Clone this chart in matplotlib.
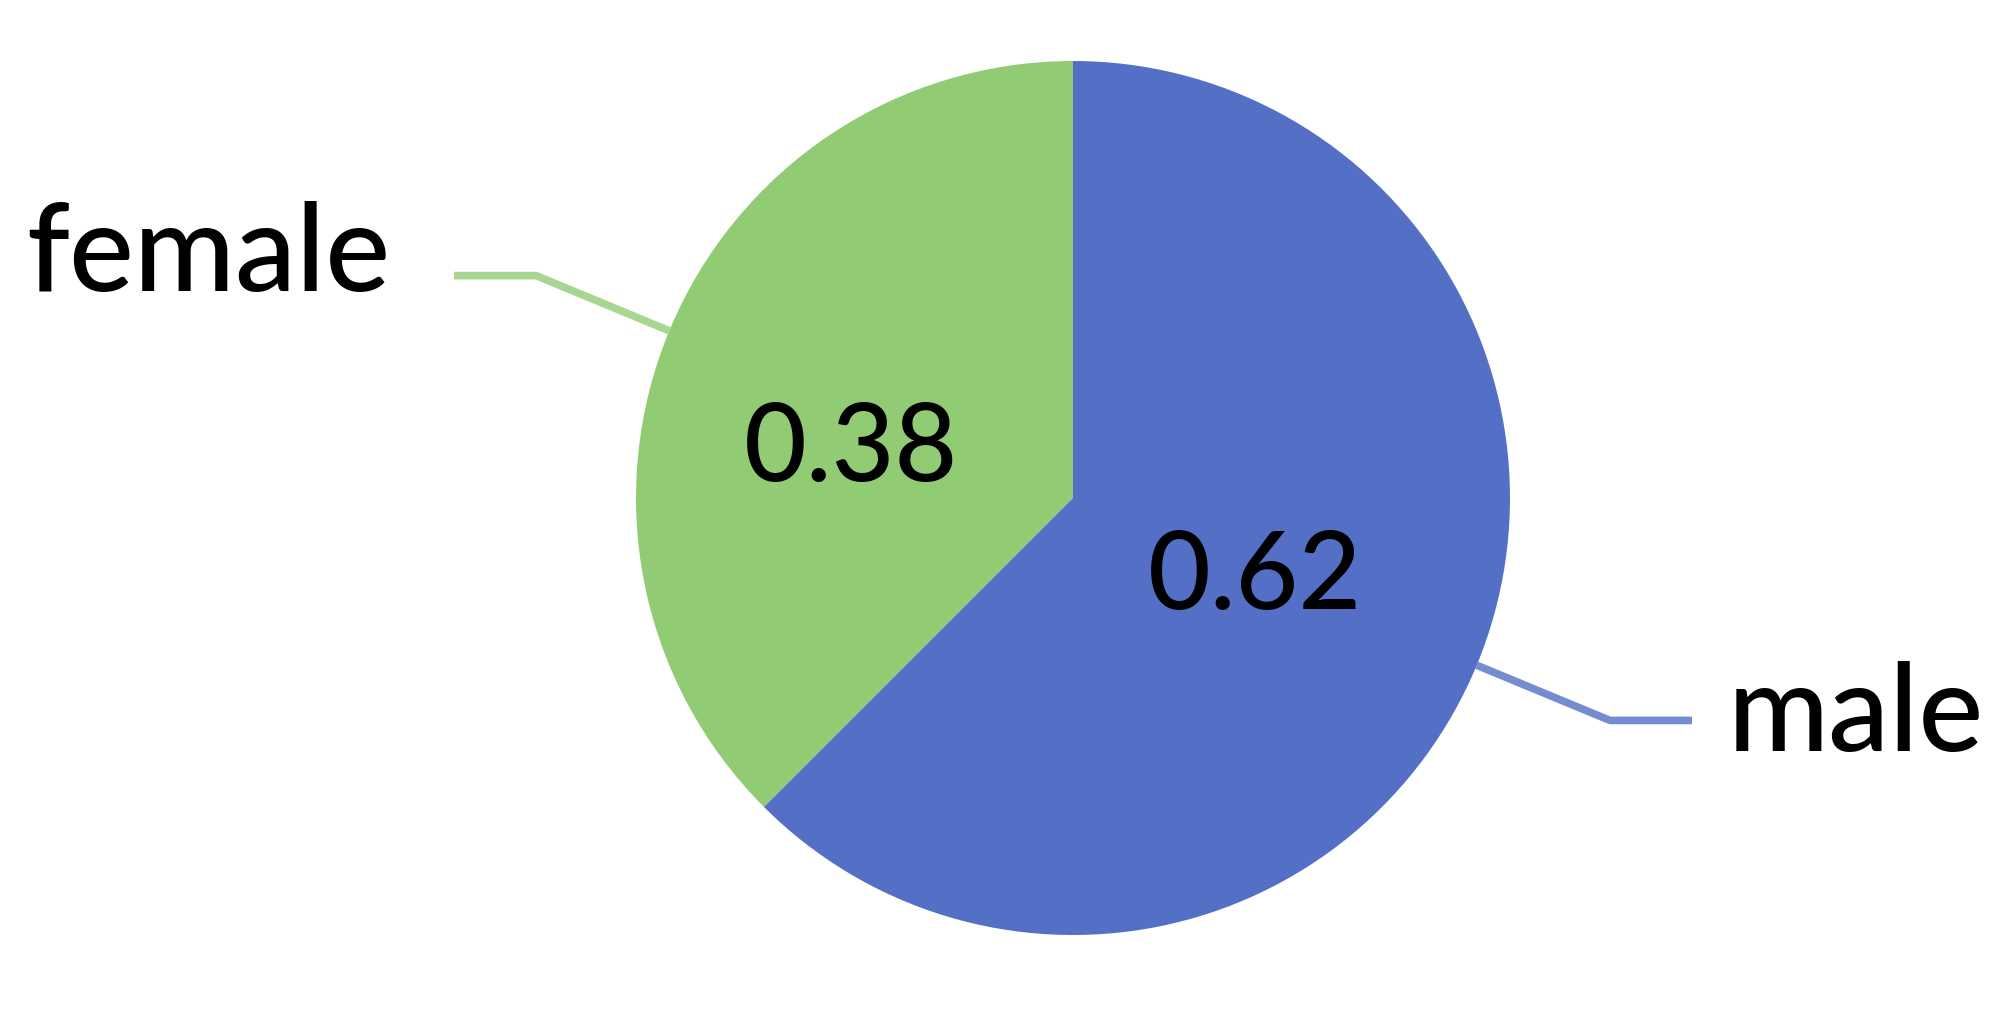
import numpy as np
import matplotlib
matplotlib.use('Agg')
import matplotlib.pyplot as plt

# chart data (3 of 8 / 5 of 8, shown rounded to 2 decimals)
labels = ['female', 'male']
values = [0.375, 0.625]
colors = ['#91cc75', '#5470c6']

W, H = 2000, 1014
cx, cy, R = 1073, 516, 437

plt.rcParams['font.family'] = ['Lato', 'DejaVu Sans']

fig = plt.figure(figsize=(W / 100, H / 100), dpi=100)
ax = fig.add_axes([0, 0, 1, 1])

wedges, _ = ax.pie(values, colors=colors, startangle=90, counterclock=True,
                   center=(cx, cy), radius=R, frame=True,
                   wedgeprops=dict(linewidth=0))
ax.set_xlim(0, W)
ax.set_ylim(0, H)
ax.set_aspect('equal')
ax.axis('off')

# small nudges so the value labels sit where the original renderer put them
value_nudge = {'female': (-20, -36), 'male': (-20, 4)}

for w, lab, val, col in zip(wedges, labels, values, colors):
    mid = np.deg2rad((w.theta1 + w.theta2) / 2)
    ux, uy = np.cos(mid), np.sin(mid)
    dx, dy = value_nudge[lab]
    ax.text(cx + 0.5 * R * ux + dx, cy + 0.5 * R * uy + dy, f'{val:.2f}',
            ha='center', va='center', fontsize=78, color='black',
            fontweight='medium')
    # leader line
    x0, y0 = cx + R * ux, cy + R * uy
    x1, y1 = cx + 1.33 * R * ux, cy + 1.33 * R * uy
    side = 1 if ux > 0 else -1
    x2 = x1 + side * 82
    ax.plot([x0, x1, x2], [y0, y1, y1], color=col, lw=5.5, alpha=0.8,
            solid_capstyle='butt', solid_joinstyle='round')
    if side > 0:
        ax.text(x2 + 36, y1 - 31, lab, ha='left', va='baseline',
                fontsize=88, color='black', fontweight='medium')
    else:
        ax.text(x2 - 64, y1 - 15, lab, ha='right', va='baseline',
                fontsize=88, color='black', fontweight='medium')

fig.savefig('out.png', dpi=100, facecolor='white')
